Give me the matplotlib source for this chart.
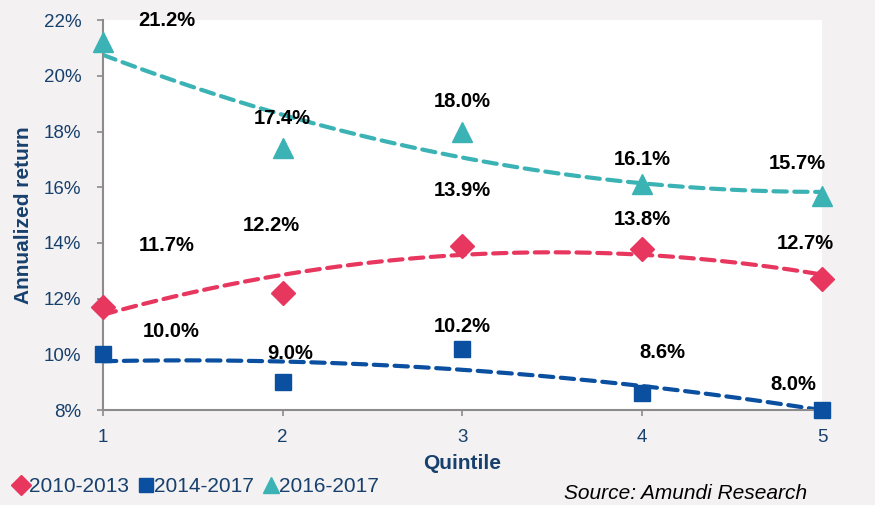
import numpy as np
import matplotlib.pyplot as plt
from matplotlib import font_manager

plt.rcParams['font.family'] = ['Liberation Sans', 'DejaVu Sans']
names = {f.name for f in font_manager.fontManager.ttflist}
narrow = 'Liberation Sans Narrow' if 'Liberation Sans Narrow' in names else 'Liberation Sans'

quintiles = [1, 2, 3, 4, 5]
r_2010_2013 = [11.7, 12.2, 13.9, 13.8, 12.7]
r_2014_2017 = [10.0, 9.0, 10.2, 8.6, 8.0]
r_2016_2017 = [21.2, 17.4, 18.0, 16.1, 15.7]
yticks = [8, 10, 12, 14, 16, 18, 20, 22]

series = [
    ('2010-2013', r_2010_2013, '#E8375F', 'D', 12),
    ('2014-2017', r_2014_2017, '#0A4FA0', 's', 12),
    ('2016-2017', r_2016_2017, '#3BB3B5', '^', 14),
]
# label offsets in pixels (dx, dy) from each point
offsets = {
    '2010-2013': [(64, 62), (-11, 68), (0, 55), (0, 29), (-17, 36)],
    '2014-2017': [(68, 23), (7, 29), (0, 22), (20, 41), (-29, 26)],
    '2016-2017': [(64, 22), (0, 30), (0, 30), (0, 25), (-25, 32)],
}

fig = plt.figure(figsize=(8.75, 5.05), dpi=100, facecolor='#F3F1F2')
ax = fig.add_axes([0.1177, 0.188, 0.8217, 0.772])
ax.set_facecolor('white')

xs = np.linspace(1, 5, 200)
for name, vals, col, mk, ms in series:
    coef = np.polyfit(quintiles, vals, 2)
    ax.plot(xs, np.polyval(coef, xs), color=col, lw=3, ls=(0, (3.2, 1.8)),
            dash_capstyle='round', zorder=2)
    ax.plot(quintiles, vals, ls='none', marker=mk, ms=ms, color=col,
            clip_on=False, zorder=3, label=name)
    for x, v, (dx, dy) in zip(quintiles, vals, offsets[name]):
        ax.annotate(f'{v:.1f}%', (x, v), xytext=(dx, dy), textcoords='offset pixels',
                    ha='center', va='center', fontsize=14.5, fontweight='bold',
                    color='black', annotation_clip=False, zorder=4)

ax.set_xlim(1, 5)
ax.set_ylim(8, 22)
ax.set_xticks(quintiles)
ax.set_yticks(yticks)
ax.set_yticklabels([f'{t}%' for t in yticks])
for s in ['top', 'right']:
    ax.spines[s].set_visible(False)
for s in ['left', 'bottom']:
    ax.spines[s].set_color('#8C8C8C')
    ax.spines[s].set_linewidth(1.5)
ax.tick_params(colors='#8C8C8C', labelcolor='#17406D', labelsize=13.5,
               length=4.5, width=1.2, direction='out')
ax.tick_params(axis='y', pad=11)
ax.tick_params(axis='x', pad=9)

ax.set_xlabel('Quintile', fontsize=15, fontweight='bold', color='#17406D', labelpad=6)
ax.set_ylabel('Annualized return', fontsize=15, fontweight='bold', color='#17406D', labelpad=8)

fig.legend(loc='lower left', bbox_to_anchor=(-0.005, -0.02), ncol=3, frameon=False,
           prop={'family': narrow, 'size': 15}, handlelength=0.6, handletextpad=0.1,
           columnspacing=0.5, labelcolor='#17406D', markerscale=0.85)

fig.text(0.923, 0.023, 'Source: Amundi Research', ha='right', va='center',
         fontsize=15, style='italic', color='black', family=narrow)

fig.savefig('out.png', dpi=100, facecolor=fig.get_facecolor())
